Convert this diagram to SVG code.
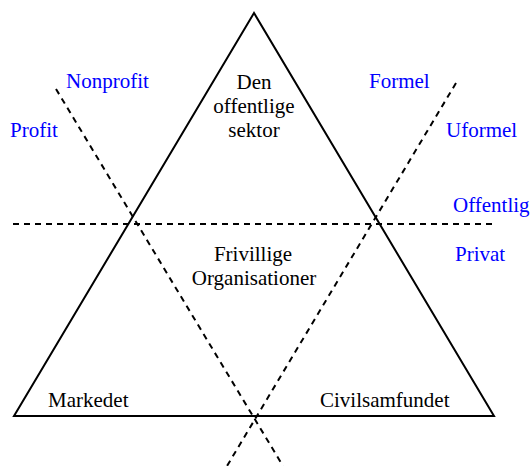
<svg xmlns="http://www.w3.org/2000/svg" width="531" height="466" viewBox="0 0 531 466">
<style>
text{font-family:'Liberation Serif','Times New Roman','DejaVu Serif',serif;font-size:21px;fill:#000}
.b{fill:#0000ff}
.m{text-anchor:middle}
.solid{fill:none;stroke:#000;stroke-width:2;stroke-linejoin:miter}
.dash{fill:none;stroke:#000;stroke-width:2;stroke-dasharray:6,5}
</style>
<rect width="531" height="466" fill="#fff"/>
<g id="triangle">
<polygon class="solid" points="254,13 14,416 494,416"/>
</g>
<g id="connectors">
<line class="dash" x1="13" y1="224" x2="495" y2="224"/>
<line class="dash" x1="56" y1="89" x2="283" y2="466"/>
<line class="dash" x1="456" y1="83" x2="227" y2="466"/>
</g>
<g id="offentlige-sektor">
<text class="m" x="254" y="89">Den</text>
<text class="m" x="254" y="113">offentlige</text>
<text class="m" x="254" y="137">sektor</text>
</g>
<g id="frivillige">
<text class="m" x="253" y="261">Frivillige</text>
<text class="m" x="254" y="285">Organisationer</text>
</g>
<g id="markedet"><text x="48" y="407">Markedet</text></g>
<g id="civilsamfundet"><text x="320" y="407">Civilsamfundet</text></g>
<g id="nonprofit"><text class="b" x="66" y="88">Nonprofit</text></g>
<g id="profit"><text class="b" x="10" y="137">Profit</text></g>
<g id="formel"><text class="b" x="369" y="88">Formel</text></g>
<g id="uformel"><text class="b" x="446" y="137">Uformel</text></g>
<g id="offentlig"><text class="b" x="453" y="212">Offentlig</text></g>
<g id="privat"><text class="b" x="455" y="261">Privat</text></g>
</svg>
